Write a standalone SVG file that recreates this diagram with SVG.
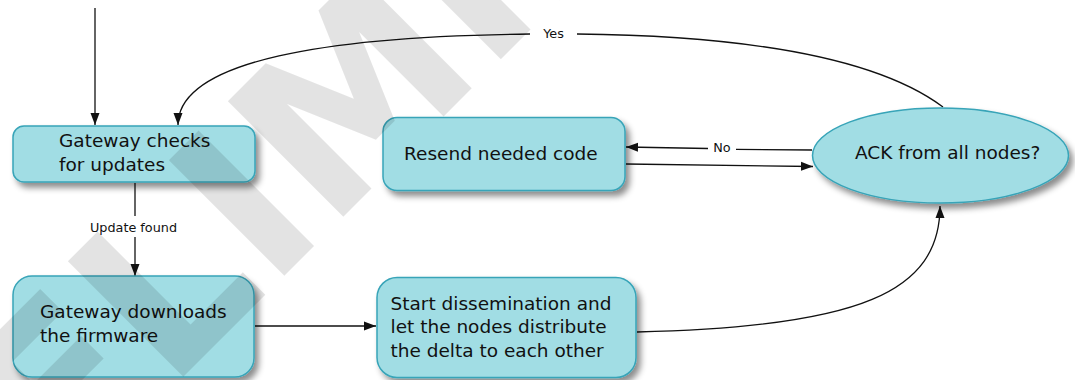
<svg xmlns="http://www.w3.org/2000/svg" width="1075" height="380" viewBox="0 0 1075 380">
  <style>
    .node { fill: #a1dde4; stroke: #37a4b8; stroke-width: 1.5; filter: url(#shadow); }
    .label { font-family: "DejaVu Sans", sans-serif; font-size: 18.5px; fill: #111; }
    .edge-label { font-family: "DejaVu Sans", sans-serif; font-size: 12.8px; fill: #111; }
    .edge { fill: none; stroke: #111; stroke-width: 1.3; }
    .arrow { marker-end: url(#arrowhead); }
    .wm { font-family: "DejaVu Sans", sans-serif; font-weight: bold; font-size: 224px; fill: #000; fill-opacity: 0.11; }
  </style>
  <defs>
    <filter id="shadow" x="-20%" y="-20%" width="150%" height="160%">
      <feDropShadow dx="4" dy="5" stdDeviation="3" flood-color="#000" flood-opacity="0.45"/>
    </filter>
    <marker id="arrowhead" viewBox="0 0 12 10" refX="12" refY="5" markerWidth="12" markerHeight="10" markerUnits="userSpaceOnUse" orient="auto">
      <path d="M0,0.5 L12,5 L0,9.5 z" fill="#111"/>
    </marker>
  </defs>

  <rect width="1075" height="380" fill="#fff"/>

  <!-- connectors -->
  <g id="connectors">
    <path class="edge arrow" d="M95,8 L95,125"/>
    <path class="edge" d="M135,183 L135,216"/>
    <path class="edge arrow" d="M135,237 L135,276"/>
    <text class="edge-label" x="133.5" y="231.5" text-anchor="middle">Update found</text>
    <path class="edge arrow" d="M255,326 L376,326"/>
    <path class="edge arrow" d="M637,332 C 860,327 940,292 940,206"/>
    <path class="edge" d="M812,150 L736,149.3"/>
    <path class="edge arrow" d="M708,148.5 L626,147"/>
    <text class="edge-label" x="722" y="152.3" text-anchor="middle">No</text>
    <path class="edge arrow" d="M626,164 L813,166.5"/>
    <path class="edge" d="M943,107 C 880,60 760,36 577,34"/>
    <path class="edge arrow" d="M530,34 C 330,36 178,60 178,125"/>
    <text class="edge-label" x="553.5" y="38.3" text-anchor="middle">Yes</text>
  </g>

  <!-- nodes -->
  <g id="node-check">
    <rect class="node" x="13" y="126" width="242" height="56" rx="11"/>
    <text class="label" x="59" y="147">Gateway checks</text>
    <text class="label" x="59" y="170.5">for updates</text>
  </g>
  <g id="node-download">
    <rect class="node" x="13" y="276" width="241" height="101" rx="19"/>
    <text class="label" x="40" y="318">Gateway downloads</text>
    <text class="label" x="40" y="341.5">the firmware</text>
  </g>
  <g id="node-resend">
    <rect class="node" x="383" y="117.5" width="242" height="73" rx="14"/>
    <text class="label" x="404" y="159.5">Resend needed code</text>
  </g>
  <g id="node-disseminate">
    <rect class="node" x="377" y="277.5" width="259" height="100" rx="20"/>
    <text class="label" x="390.5" y="309.5">Start dissemination and</text>
    <text class="label" x="390.5" y="333">let the nodes distribute</text>
    <text class="label" x="390.5" y="356.5">the delta to each other</text>
  </g>
  <g id="node-ack">
    <ellipse class="node" cx="940.5" cy="155.5" rx="128" ry="47.5"/>
    <text class="label" x="855" y="158.5">ACK from all nodes?</text>
  </g>

  <!-- watermark -->
  <text class="wm" transform="translate(269.8,290.2) rotate(-45)"><tspan x="0" text-anchor="end">PREL</tspan><tspan x="0">IMINARY</tspan></text>
</svg>
